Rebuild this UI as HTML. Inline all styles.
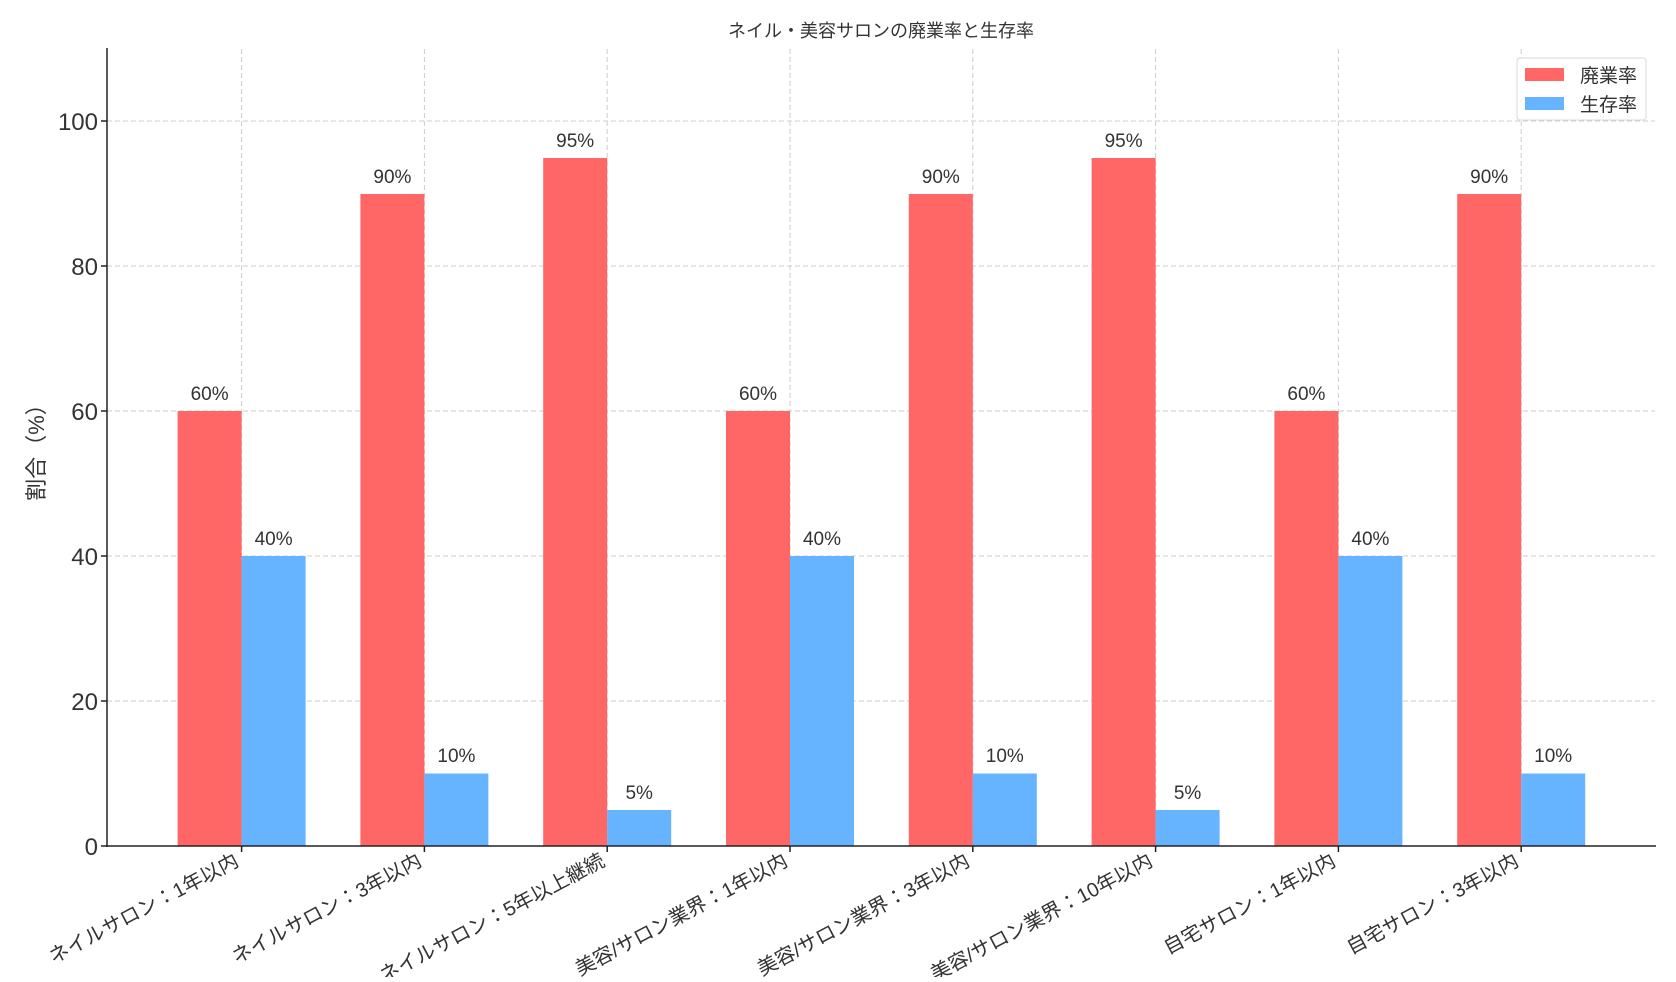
<!DOCTYPE html>
<html><head><meta charset="utf-8"><style>
html,body{margin:0;padding:0;background:#fff}
svg text{font-family:"Liberation Sans","Noto Sans CJK JP",sans-serif;fill:#333}
</style></head><body>
<svg width="1676" height="977" xmlns="http://www.w3.org/2000/svg">
<rect width="1676" height="977" fill="#fff"/>
<text x="881" y="37" font-size="18" text-anchor="middle">ネイル・美容サロンの廃業率と生存率</text>
<g stroke="#cccccc" stroke-dasharray="5,3" stroke-width="1">
<line x1="107" x2="1655" y1="701" y2="701"/>
<line x1="107" x2="1655" y1="556" y2="556"/>
<line x1="107" x2="1655" y1="411" y2="411"/>
<line x1="107" x2="1655" y1="266" y2="266"/>
<line x1="107" x2="1655" y1="121" y2="121"/>
<line x1="241.6" x2="241.6" y1="49" y2="846"/>
<line x1="424.4" x2="424.4" y1="49" y2="846"/>
<line x1="607.2" x2="607.2" y1="49" y2="846"/>
<line x1="790" x2="790" y1="49" y2="846"/>
<line x1="972.8" x2="972.8" y1="49" y2="846"/>
<line x1="1155.6" x2="1155.6" y1="49" y2="846"/>
<line x1="1338.4" x2="1338.4" y1="49" y2="846"/>
<line x1="1521.2" x2="1521.2" y1="49" y2="846"/>
</g>
<g fill="#ff6666">
<rect x="177.6" y="411" width="64" height="435"/>
<rect x="360.4" y="194" width="64" height="652"/>
<rect x="543.2" y="158" width="64" height="688"/>
<rect x="726" y="411" width="64" height="435"/>
<rect x="908.8" y="194" width="64" height="652"/>
<rect x="1091.6" y="158" width="64" height="688"/>
<rect x="1274.4" y="411" width="64" height="435"/>
<rect x="1457.2" y="194" width="64" height="652"/>
</g>
<g fill="#66b3ff">
<rect x="241.6" y="556" width="64" height="290"/>
<rect x="424.4" y="773.5" width="64" height="72.5"/>
<rect x="607.2" y="810" width="64" height="36"/>
<rect x="790" y="556" width="64" height="290"/>
<rect x="972.8" y="773.5" width="64" height="72.5"/>
<rect x="1155.6" y="810" width="64" height="36"/>
<rect x="1338.4" y="556" width="64" height="290"/>
<rect x="1521.2" y="773.5" width="64" height="72.5"/>
</g>
<g font-size="19" text-anchor="middle">
<text x="209.6" y="400">60%</text><text x="273.6" y="545">40%</text>
<text x="392.4" y="183">90%</text><text x="456.4" y="762">10%</text>
<text x="575.2" y="147">95%</text><text x="639.2" y="799">5%</text>
<text x="758" y="400">60%</text><text x="822" y="545">40%</text>
<text x="940.8" y="183">90%</text><text x="1004.8" y="762">10%</text>
<text x="1123.6" y="147">95%</text><text x="1187.6" y="799">5%</text>
<text x="1306.4" y="400">60%</text><text x="1370.4" y="545">40%</text>
<text x="1489.2" y="183">90%</text><text x="1553.2" y="762">10%</text>
</g>
<g stroke="#222" stroke-width="1.5">
<line x1="107" x2="107" y1="48" y2="847"/>
<line x1="106" x2="1656" y1="846" y2="846"/>
<line x1="101" x2="107" y1="846" y2="846"/><line x1="101" x2="107" y1="701" y2="701"/>
<line x1="101" x2="107" y1="556" y2="556"/><line x1="101" x2="107" y1="411" y2="411"/>
<line x1="101" x2="107" y1="266" y2="266"/><line x1="101" x2="107" y1="121" y2="121"/>
<line x1="241.6" x2="241.6" y1="846" y2="852"/><line x1="424.4" x2="424.4" y1="846" y2="852"/>
<line x1="607.2" x2="607.2" y1="846" y2="852"/><line x1="790" x2="790" y1="846" y2="852"/>
<line x1="972.8" x2="972.8" y1="846" y2="852"/><line x1="1155.6" x2="1155.6" y1="846" y2="852"/>
<line x1="1338.4" x2="1338.4" y1="846" y2="852"/><line x1="1521.2" x2="1521.2" y1="846" y2="852"/>
</g>
<g font-size="24" text-anchor="end">
<text x="98" y="855">0</text><text x="98" y="710">20</text><text x="98" y="565">40</text>
<text x="98" y="420">60</text><text x="98" y="275">80</text><text x="98" y="130">100</text>
</g>
<text transform="translate(44,447) rotate(-90)" font-size="22" text-anchor="middle">割合（%）</text>
<g font-size="20" text-anchor="end">
<text transform="translate(240,865) rotate(-28)">ネイルサロン：1年以内</text>
<text transform="translate(423,865) rotate(-28)">ネイルサロン：3年以内</text>
<text transform="translate(606,865) rotate(-28)">ネイルサロン：5年以上継続</text>
<text transform="translate(789,865) rotate(-28)">美容/サロン業界：1年以内</text>
<text transform="translate(971,865) rotate(-28)">美容/サロン業界：3年以内</text>
<text transform="translate(1154,865) rotate(-28)">美容/サロン業界：10年以内</text>
<text transform="translate(1337,865) rotate(-28)">自宅サロン：1年以内</text>
<text transform="translate(1520,865) rotate(-28)">自宅サロン：3年以内</text>
</g>
<rect x="1517" y="58" width="129" height="62" rx="3" fill="#fff" stroke="#d8d8d8"/>
<rect x="1525" y="68" width="39" height="13" fill="#ff6666"/>
<rect x="1525" y="97" width="39" height="13" fill="#66b3ff"/>
<text x="1580" y="82" font-size="19">廃業率</text>
<text x="1580" y="111" font-size="19">生存率</text>
</svg>
</body></html>
